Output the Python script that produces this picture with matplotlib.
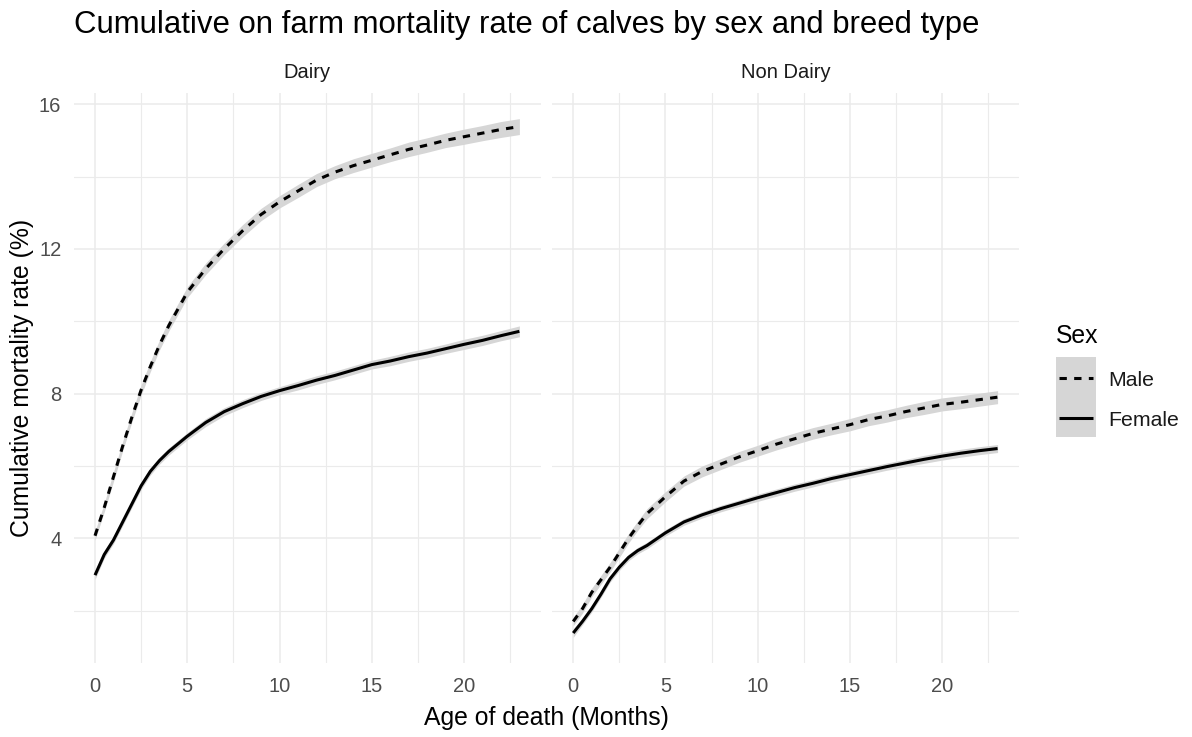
import numpy as np
import matplotlib
matplotlib.use('Agg')
import matplotlib.pyplot as plt

plt.rcParams['font.family'] = ['Liberation Sans', 'DejaVu Sans']

# age of death (months)
months = [0, 0.5, 1, 1.5, 2, 2.5, 3, 3.5, 4, 5, 6, 7, 8, 9, 10, 11, 12,
          13, 14, 15, 16, 17, 18, 19, 20, 21, 22, 23]

# cumulative mortality rate (%)
dairy_male = [4.07, 4.85, 5.7, 6.55, 7.35, 8.1, 8.75, 9.35, 9.88, 10.8, 11.45,
              12.0, 12.5, 12.95, 13.3, 13.6, 13.9, 14.12, 14.3, 14.45, 14.6,
              14.75, 14.87, 15.0, 15.1, 15.2, 15.3, 15.38]
dairy_female = [2.98, 3.55, 3.95, 4.45, 4.95, 5.45, 5.85, 6.15, 6.4, 6.82, 7.2,
                7.5, 7.72, 7.92, 8.08, 8.22, 8.37, 8.5, 8.65, 8.8, 8.9, 9.02,
                9.12, 9.24, 9.36, 9.47, 9.6, 9.72]
nondairy_male = [1.7, 2.05, 2.5, 2.85, 3.2, 3.6, 4.0, 4.35, 4.68, 5.15, 5.58,
                 5.85, 6.05, 6.25, 6.42, 6.6, 6.75, 6.9, 7.02, 7.14, 7.28, 7.38,
                 7.5, 7.6, 7.7, 7.76, 7.83, 7.9]
nondairy_female = [1.38, 1.7, 2.05, 2.45, 2.88, 3.2, 3.47, 3.66, 3.8, 4.15,
                   4.45, 4.65, 4.82, 4.97, 5.12, 5.26, 5.4, 5.52, 5.65, 5.76,
                   5.87, 5.98, 6.08, 6.18, 6.27, 6.35, 6.42, 6.48]

# half width of the confidence band
dairy_male_ci = [0.12, 0.12, 0.13, 0.13, 0.13, 0.14, 0.14, 0.14, 0.15, 0.15,
                 0.16, 0.16, 0.17, 0.17, 0.17, 0.18, 0.18, 0.18, 0.19, 0.19,
                 0.19, 0.2, 0.2, 0.2, 0.21, 0.21, 0.22, 0.22]
dairy_female_ci = [0.12, 0.1, 0.1, 0.1, 0.1, 0.1, 0.1, 0.1, 0.1, 0.1, 0.11,
                   0.11, 0.11, 0.11, 0.11, 0.12, 0.12, 0.12, 0.12, 0.12, 0.13,
                   0.13, 0.13, 0.13, 0.14, 0.14, 0.14, 0.15]
nondairy_male_ci = [0.12, 0.12, 0.12, 0.12, 0.13, 0.13, 0.13, 0.13, 0.14, 0.14,
                    0.14, 0.15, 0.15, 0.15, 0.15, 0.16, 0.16, 0.16, 0.16, 0.17,
                    0.17, 0.17, 0.17, 0.18, 0.18, 0.18, 0.18, 0.18]
nondairy_female_ci = [0.12, 0.09, 0.09, 0.09, 0.09, 0.09, 0.09, 0.09, 0.09,
                      0.09, 0.09, 0.09, 0.09, 0.09, 0.1, 0.1, 0.1, 0.1, 0.1,
                      0.1, 0.1, 0.1, 0.1, 0.11, 0.11, 0.11, 0.11, 0.11]

panels = ['Dairy', 'Non Dairy']
sexes = ['Male', 'Female']
series = {
    ('Dairy', 'Male'): (dairy_male, dairy_male_ci),
    ('Dairy', 'Female'): (dairy_female, dairy_female_ci),
    ('Non Dairy', 'Male'): (nondairy_male, nondairy_male_ci),
    ('Non Dairy', 'Female'): (nondairy_female, nondairy_female_ci),
}
styles = {'Male': (0, (2.4, 2.4)), 'Female': '-'}

band_col = '#d6d6d6'
grid_col = '#ebebeb'
x = np.array(months)

# ggplot style 5% expansion
lo = min(min(np.array(v) - np.array(c)) for v, c in series.values())
hi = max(max(np.array(v) + np.array(c)) for v, c in series.values())
ylim = (lo - 0.05 * (hi - lo), hi + 0.05 * (hi - lo))
xlim = (x.min() - 0.05 * (x.max() - x.min()), x.max() + 0.05 * (x.max() - x.min()))

W, H = 1192, 737
fig = plt.figure(figsize=(W / 100, H / 100), dpi=100)

lefts = [73.8, 552.0]
pw = 466.8
ptop, pbot = 92.7, 663.3

for i, panel in enumerate(panels):
    ax = fig.add_axes([lefts[i] / W, 1 - pbot / H, pw / W, (pbot - ptop) / H])
    for sex in sexes:
        vals, ci = series[(panel, sex)]
        vals = np.array(vals)
        ci = np.array(ci)
        ax.fill_between(x, vals - ci, vals + ci, color=band_col, lw=0, zorder=2)
    for sex in sexes:
        vals, ci = series[(panel, sex)]
        ax.plot(x, vals, color='black', lw=2.2, linestyle=styles[sex],
                zorder=3, solid_capstyle='butt', dash_capstyle='butt')
    ax.set_xlim(*xlim)
    ax.set_ylim(*ylim)
    ax.set_xticks([0, 5, 10, 15, 20])
    ax.set_xticks([2.5, 7.5, 12.5, 17.5, 22.5], minor=True)
    ax.set_yticks([4, 8, 12, 16])
    ax.set_yticks([2, 6, 10, 14], minor=True)
    ax.grid(True, which='major', color=grid_col, lw=1.1, zorder=0)
    ax.grid(True, which='minor', color=grid_col, lw=0.8, zorder=0)
    ax.set_axisbelow(True)
    for s in ax.spines.values():
        s.set_visible(False)
    ax.tick_params(which='both', length=0, labelsize=14.5, labelcolor='#4d4d4d')
    ax.tick_params(axis='x', pad=10)
    ax.tick_params(axis='y', pad=9)
    if i > 0:
        ax.tick_params(axis='y', labelleft=False)
    fig.text((lefts[i] + pw / 2) / W, 1 - 73 / H, panel, ha='center', va='center',
             fontsize=14.5, color='#1a1a1a')

fig.text(74 / W, 1 - 25 / H, 'Cumulative on farm mortality rate of calves by sex and breed type',
         ha='left', va='center', fontsize=22.4, color='black')
fig.text((lefts[0] + lefts[1] + pw) / 2 / W, 1 - 718 / H, 'Age of death (Months)',
         ha='center', va='center', fontsize=17.8, color='black')
fig.text(22 / W, 1 - (ptop + pbot) / 2 / H, 'Cumulative mortality rate (%)',
         ha='center', va='center', rotation=90, fontsize=17.8, color='black')

# legend drawn in pixel coordinates
lg = fig.add_axes([0, 0, 1, 1])
lg.set_xlim(0, W)
lg.set_ylim(H, 0)
lg.axis('off')
lg.patch.set_alpha(0)
lg.text(1056, 336, 'Sex', ha='left', va='center', fontsize=17.8, color='black')
lg.add_patch(plt.Rectangle((1056, 357.3), 40, 79.4, color=band_col, lw=0))
for j, sex in enumerate(sexes):
    yy = 378 + 40 * j
    lg.plot([1059, 1093], [yy, yy], color='black', lw=2.2, linestyle=styles[sex],
            solid_capstyle='butt', dash_capstyle='butt')
    lg.text(1108, yy + 2, sex, ha='left', va='center', fontsize=15.3, color='#1a1a1a')

fig.savefig('out.png', dpi=100)
